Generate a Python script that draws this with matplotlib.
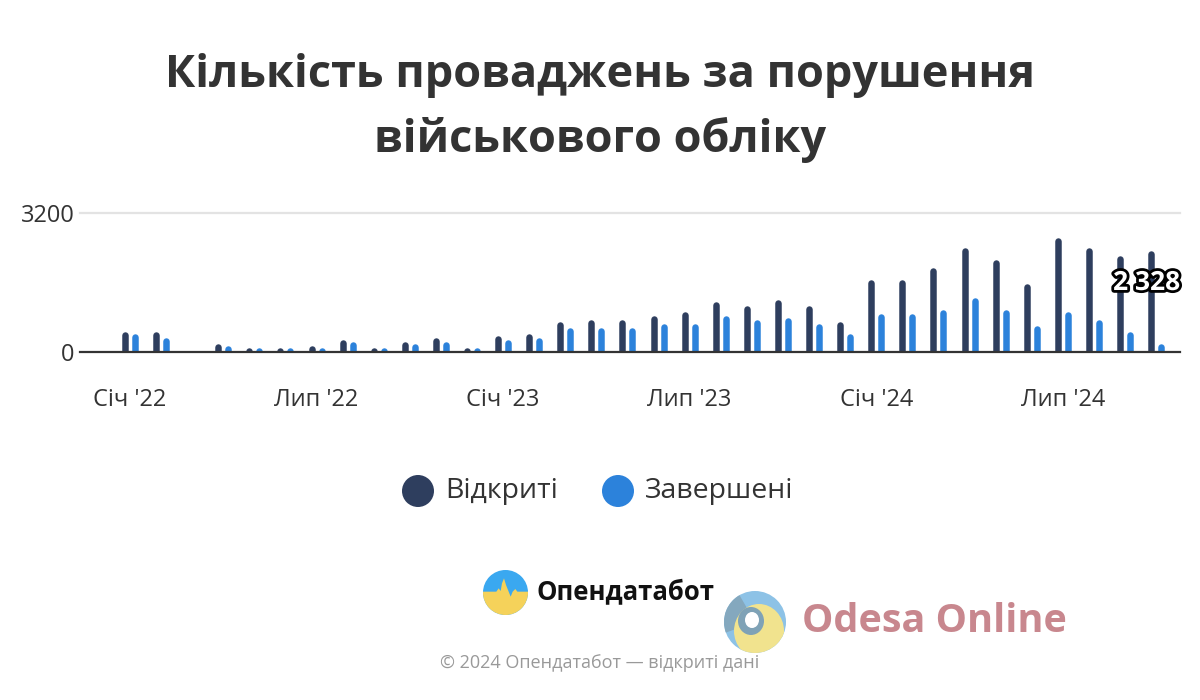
import matplotlib
matplotlib.use("Agg")
import matplotlib.pyplot as plt
import matplotlib.patheffects as pe
from matplotlib.patches import Circle, Wedge, Ellipse, Polygon
import numpy as np

# ---- data ----
months = ["Січ '22", "Лют '22", "Бер '22", "Кві '22", "Тра '22", "Чер '22",
          "Лип '22", "Сер '22", "Вер '22", "Жов '22", "Лис '22", "Гру '22",
          "Січ '23", "Лют '23", "Бер '23", "Кві '23", "Тра '23", "Чер '23",
          "Лип '23", "Сер '23", "Вер '23", "Жов '23", "Лис '23", "Гру '23",
          "Січ '24", "Лют '24", "Бер '24", "Кві '24", "Тра '24", "Чер '24",
          "Лип '24", "Сер '24", "Вер '24", "Жов '24"]
opened = [470, 470, 0, 195, 100, 100, 150, 287, 100, 240, 333, 100,
          378, 425, 700, 745, 745, 837, 929, 1158, 1067, 1204, 1067, 700,
          1663, 1663, 1938, 2397, 2122, 1571, 2626, 2397, 2213, 2328]
closed = [425, 333, 0, 150, 100, 100, 100, 240, 100, 195, 240, 100,
          287, 333, 562, 562, 562, 654, 654, 837, 745, 791, 654, 425,
          883, 883, 975, 1250, 975, 608, 929, 745, 470, 195]
tick_idx = [0, 6, 12, 18, 24, 30]
tick_labels = ["Січ '22", "Лип '22", "Січ '23", "Лип '23", "Січ '24", "Лип '24"]
y_ticks = [0, 3200]
series_names = ["Відкриті", "Завершені"]

DARK = "#2E3E5E"
BLUE = "#2C82DB"
TXT = "#333333"
FONT = ["Open Sans", "DejaVu Sans"]
plt.rcParams["font.family"] = FONT

fig = plt.figure(figsize=(12, 7), dpi=100)
ax = fig.add_axes([80 / 1200, 1 - 352 / 700, 1100 / 1200, 139.5 / 700])

x = np.arange(len(months))
ymax = 3200
px_per_unit = 139.5 / ymax
bar_px = 6.5
r = (bar_px / 2) / px_per_unit  # round cap radius in data units
off = 5 / 31.1

for vals, col, dx in [(opened, DARK, -off), (closed, BLUE, off)]:
    v = np.array(vals, dtype=float)
    mask = v > 0
    top = np.clip(v - r, 0, None)
    lc = ax.vlines(x[mask] + dx, 0, top[mask], colors=col,
                   linewidth=bar_px * 0.72, zorder=3)
    lc.set_capstyle("round")

ax.set_xlim(-1.608, 33.77)
ax.set_ylim(0, ymax)
ax.set_yticks(y_ticks)
ax.set_yticklabels(["0", "3200"])
ax.set_xticks(tick_idx)
ax.set_xticklabels(tick_labels)
ax.tick_params(axis="both", length=0, labelsize=17, colors=TXT)
ax.tick_params(axis="x", pad=26)
ax.tick_params(axis="y", pad=4)
for s in ["top", "right", "left"]:
    ax.spines[s].set_visible(False)
ax.spines["bottom"].set_color(TXT)
ax.spines["bottom"].set_linewidth(1.6)
ax.spines["bottom"].set_zorder(5)
ax.axhline(3200, color="#e3e3e3", lw=1.6, zorder=1, clip_on=False)

# value label on last bar
ax.annotate("2 328", xy=(x[-1], opened[-1]), xytext=(24, -32),
            textcoords="offset pixels", ha="right", va="center",
            fontsize=19, fontweight="bold", color="white", zorder=6,
            annotation_clip=False,
            path_effects=[pe.withStroke(linewidth=4, foreground="black")])

# title
fig.text(0.5, 1 - 75 / 700, "Кількість проваджень за порушення",
         ha="center", va="center", fontsize=32.5, fontweight="bold", color=TXT)
fig.text(0.5, 1 - 140 / 700, "військового обліку",
         ha="center", va="center", fontsize=32.5, fontweight="bold", color=TXT)

# overlay for legend / logos
ov = fig.add_axes([0, 0, 1, 1], zorder=-1)
ov.set_xlim(0, 1200)
ov.set_ylim(700, 0)
ov.axis("off")

# legend
for cx, col, name in [(418, DARK, series_names[0]), (618, BLUE, series_names[1])]:
    ov.add_patch(Circle((cx, 491), 16, color=col, lw=0))
    ov.text(cx + 27, 491, name, ha="left", va="center", fontsize=20.5, color=TXT)

# Opendatabot logo
base = Circle((505.5, 592.5), 22.5, color="#3AA8F0", lw=0)
ov.add_patch(base)
zx = [0, 15, 55, 62, 68, 72, 78, 84, 90, 98, 104, 112, 118, 150, 170, 170, 0]
zy = [80, 80, 80, 70, 78, 55, 40, 60, 75, 95, 80, 72, 80, 80, 80, 200, 200]
pts = [(478 + a / 3, 565 + b / 3) for a, b in zip(zx, zy)]
yel = Polygon(pts, closed=True, color="#F5D25A", lw=0)
ov.add_patch(yel)
yel.set_clip_path(base)
ov.text(537, 592, "Опендатабот", ha="left", va="center", fontsize=18.5,
        fontweight="bold", color="#111111", family=["Open Sans", "DejaVu Sans"])

# Odesa Online watermark
outer = Circle((755, 622), 31, color="#8DC2E6", lw=0)
ov.add_patch(outer)
lower = Wedge((755, 622), 31, 160, 240, color="#84A8BE", lw=0)
ov.add_patch(lower)
ye = Ellipse((759, 631), 50, 54, color="#F1E38E", lw=0)
ov.add_patch(ye)
ye.set_clip_path(outer)
ov.add_patch(Ellipse((751, 621), 26, 28, color="#7FA2B6", lw=0))
ov.add_patch(Ellipse((752, 620), 14, 16, color="white", lw=0))
ov.text(802, 621, "Odesa Online", ha="left", va="center", fontsize=28.5,
        fontweight="bold", color="#C8878E",
        family=["Open Sans", "DejaVu Sans"])

# footer
fig.text(0.5, 1 - 663 / 700, "© 2024 Опендатабот — відкриті дані",
         ha="center", va="center", fontsize=13, color="#999999")

fig.savefig("out.png", dpi=100, facecolor="white")
